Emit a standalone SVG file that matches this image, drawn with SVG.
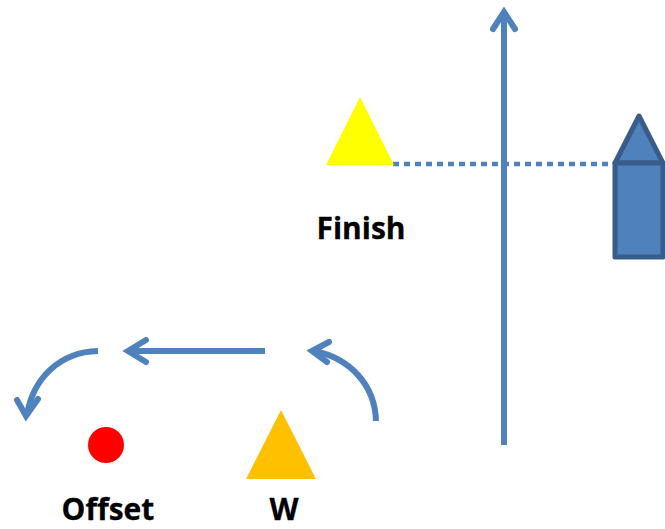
<svg xmlns="http://www.w3.org/2000/svg" width="665" height="529" viewBox="0 0 665 529">
<style>
.c{fill:none;stroke:#4f81bd;stroke-width:6;stroke-linecap:butt}
.h{fill:none;stroke:#4f81bd;stroke-width:6;stroke-linecap:round;stroke-linejoin:miter}
.d{fill:none;stroke:#4f81bd;stroke-width:4.5;stroke-dasharray:6 5}
.t{font-family:"Open Sans","Noto Sans",sans-serif;font-weight:700;font-size:30px;fill:#000;text-anchor:middle;stroke:#000;stroke-width:.3}
.b{fill:#4f81bd;stroke:#385d8a;stroke-width:5;stroke-linejoin:round}
</style>
<rect width="665" height="529" fill="#fff"/>
<g id="connectors">
<path class="d" d="M393 164H614"/>
<path class="c" d="M504 445V14"/>
<path class="h" d="M493 29L504 12L515 29"/>
<path class="c" d="M265 351H130"/>
<path class="h" d="M146 340L128 351L146 362"/>
<path class="c" d="M376 421C375 385 350 358 314 351"/>
<path class="h" d="M329 342L312 351L327 362"/>
<path class="c" d="M98 351C60 352 33 378 27 415"/>
<path class="h" d="M17 400L26 416L38 399"/>
</g>
<g id="finish-marker"><path d="M360 97L394 165H326Z" fill="#ffff00"/><text class="t" x="361" y="239">Finish</text></g>
<g id="boat">
<path class="b" d="M615 163L639 116L663 163Z"/>
<rect class="b" x="615" y="163" width="48" height="94"/>
</g>
<g id="offset-marker"><circle cx="106" cy="445" r="18" fill="#ff0000"/><text class="t" x="108" y="520">Offset</text></g>
<g id="w-marker"><path d="M281 410L316 479H246Z" fill="#ffc000"/><text class="t" x="284" y="520">W</text></g>
</svg>
